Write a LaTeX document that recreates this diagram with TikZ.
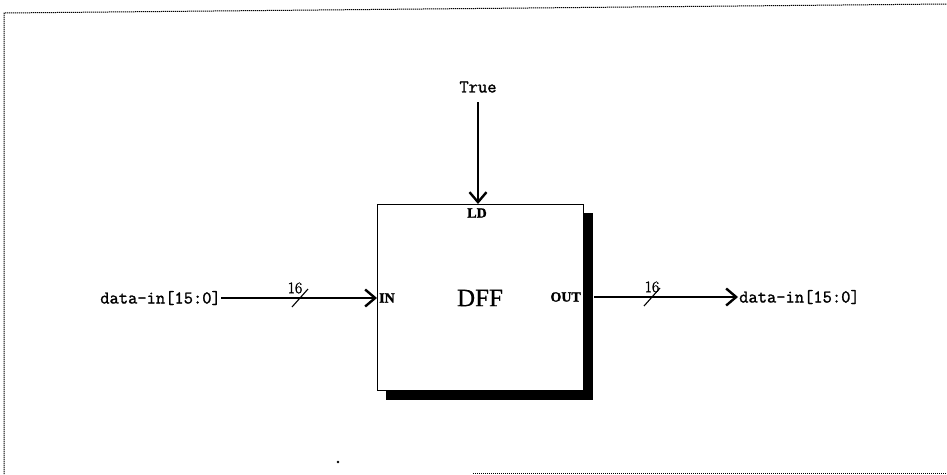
\documentclass[tikz,border=0pt]{standalone}
\usepackage{fontspec}
\newfontfamily\dffont{Liberation Serif}[FakeBold=0.6]
\newfontfamily\lblfont{Latin Modern Mono}[FakeBold=1.4]
\newfontfamily\portfont{Liberation Serif}[FakeBold=1.5]
\newfontfamily\numfont{Latin Modern Roman}[FakeBold=1.6]
\usetikzlibrary{arrows.meta}
\tikzset{
  wire/.style={line width=1.1pt, -{Straight Barb[length=10pt,width=17pt,line width=2.4pt]}},
  lbl/.style={font=\lblfont\fontsize{18}{20}\selectfont, inner sep=0pt},
  port/.style={font=\portfont\bfseries\fontsize{14}{16}\selectfont, inner sep=0pt},
  busw/.style={font=\numfont\fontsize{16}{18}\selectfont, inner sep=0pt},
  frame/.style={line width=1pt, dash pattern=on 1.2pt off 0.8pt},
}
\begin{document}
\begin{tikzpicture}[x=1pt,y=-1pt]
\useasboundingbox (0,0) rectangle (947,474);
% frame
\draw[frame] (4,474) -- (4,13) -- (947,4);
\draw[frame] (473,473) -- (947,473);
\fill (338,462) circle (1.3pt);
% shadow and box
\fill (386,213) rectangle (593,400);
\node[draw, fill=white, line width=1pt, minimum width=206pt, minimum height=186pt, inner sep=0pt] (dff) at (480,297) {};
\node[font=\dffont\fontsize{25}{27}\selectfont, inner sep=0pt] (name) at (480,298) {DFF};
\node[port] (ld) at (477,213) {LD};
\node[port, anchor=west] (in) at (379,298) {IN};
\node[port, anchor=east] (out) at (581,297) {OUT};
% labels
\node[lbl] (tru) at (478,87) {True};
\node[lbl, anchor=east] (din) at (221,298) {data-in[15:0]};
\node[lbl, anchor=west] (dout) at (739,297) {data-in[15:0]};
\coordinate (ldtop) at (478,102);
\coordinate (ldpin) at (478,204);
\coordinate (inpin) at (377,298);
\coordinate (outpin) at (594,297);
\coordinate (outend) at (738,297);
\draw[wire] (ldtop) -- (ldpin);
\draw[wire] (din.east |- inpin) -- (inpin);
\draw[wire] (outpin) -- (outend);
% bus slashes
\coordinate (s1) at (300,298);
\coordinate (s2) at (652,297);
\draw[line width=1.1pt] ([shift={(-8,9)}]s1) -- ([shift={(8,-9)}]s1);
\draw[line width=1.1pt] ([shift={(-8,9)}]s2) -- ([shift={(8,-9)}]s2);
\node[busw] (w1) at (295,288) {16};
\node[busw] (w2) at (652,287) {16};
\end{tikzpicture}
\end{document}
